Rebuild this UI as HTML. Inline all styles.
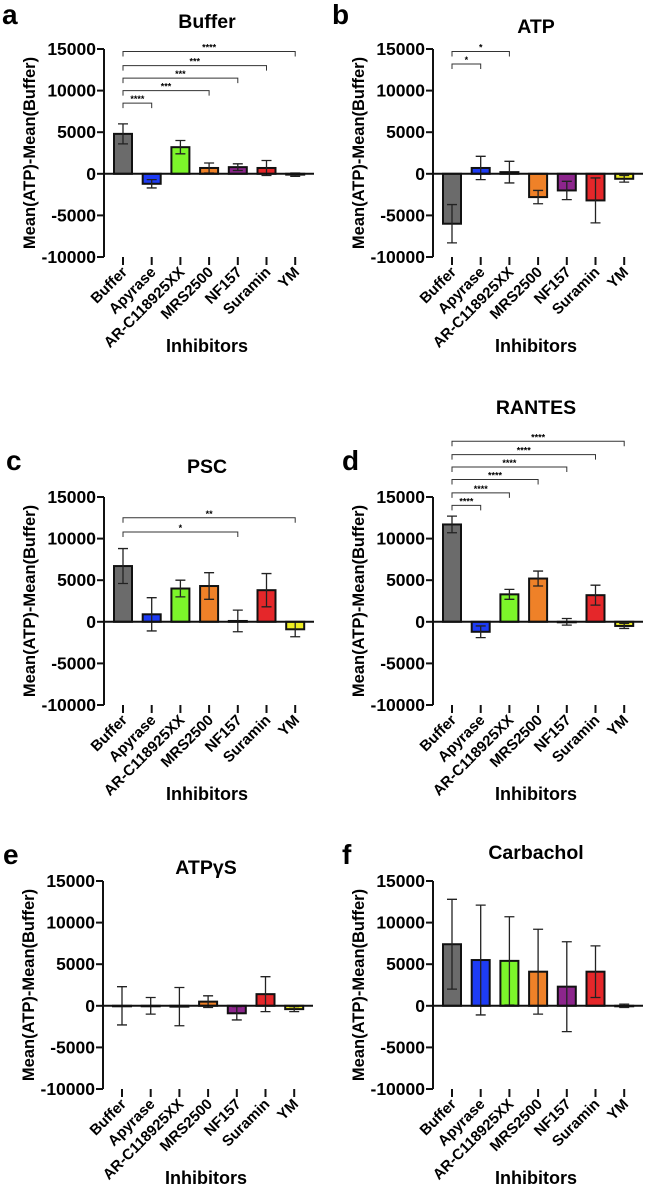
<!DOCTYPE html>
<html><head><meta charset="utf-8"><style>
html,body{margin:0;padding:0;background:#fff}
svg{display:block;font-family:"Liberation Sans",Arial,sans-serif;font-weight:bold}
</style></head><body>
<svg id="fig" width="646" height="1193" viewBox="0 0 646 1193" xmlns="http://www.w3.org/2000/svg"></svg>
<script>
const categories = ["Buffer","Apyrase","AR-C118925XX","MRS2500","NF157","Suramin","YM"];
const colors = ["#6b6b6b","#1e3cf5","#7cf52a","#ef8128","#8c258c","#e5272a","#eeee22"];
const yTicks = [15000,10000,5000,0,-5000,-10000];
const valsA = [4800,-1200,3200,700,800,700,-100];
const errA = [1200,500,800,600,400,900,200];
const valsB = [-6000,700,200,-2800,-2000,-3200,-600];
const errB = [2300,1400,1300,800,1100,2700,400];
const valsC = [6700,900,4000,4300,100,3800,-900];
const errC = [2100,2000,1000,1600,1300,2000,900];
const valsD = [11700,-1200,3300,5200,0,3200,-500];
const errD = [1000,700,600,900,400,1200,300];
const valsE = [0,0,-100,500,-900,1400,-400];
const errE = [2300,1000,2300,700,800,2100,300];
const valsF = [7400,5500,5400,4100,2300,4100,0];
const errF = [5400,6600,5300,5100,5400,3100,200];
const sigA = [[1,8500,"****"],[3,10000,"***"],[4,11500,"***"],[5,13000,"***"],[6,14700,"****"]];
const sigB = [[1,13200,"*"],[2,14700,"*"]];
const sigC = [[4,10800,"*"],[6,12500,"**"]];
const sigD = [[1,14000,"****"],[2,15500,"****"],[3,17100,"****"],[4,18600,"****"],[5,20100,"****"],[6,21700,"****"]];

const panels = [
 {id:"a",title:"Buffer",ax:104,top:49,vals:valsA,err:errA,sig:sigA,lx:2,ly:24,tOff:21},
 {id:"b",title:"ATP",ax:433,top:49,vals:valsB,err:errB,sig:sigB,lx:332,ly:24,tOff:16},
 {id:"c",title:"PSC",ax:104,top:497,vals:valsC,err:errC,sig:sigC,lx:6,ly:470,tOff:24},
 {id:"d",title:"RANTES",ax:433,top:497,vals:valsD,err:errD,sig:sigD,lx:342,ly:470,tOff:83},
 {id:"e",title:"ATPγS",ax:103,top:881,vals:valsE,err:errE,sig:[],lx:3,ly:864,tOff:7},
 {id:"f",title:"Carbachol",ax:433,top:881,vals:valsF,err:errF,sig:[],lx:342,ly:864,tOff:22}
];
const NS="http://www.w3.org/2000/svg";
const svg=document.getElementById("fig");
function mk(tag,attrs,parent,text){const e=document.createElementNS(NS,tag);for(const k in attrs)e.setAttribute(k,attrs[k]);if(text!==undefined)e.textContent=text;parent.appendChild(e);return e;}
panels.forEach(p=>{
  const g=mk("g",{},svg);
  
  
  const pxPer=208/25000;
  const y=v=>p.top+(15000-v)*pxPer;
  const step=28.7;
  const x=i=>p.ax+19+i*step;
  const bottom=y(-10000);
  const lt=mk("text",{x:p.lx,y:p.ly,"font-size":28},g,p.id);
  
  
  const tt=mk("text",{x:p.ax+103,y:p.top-p.tOff,"font-size":19.5,"text-anchor":"middle"},g,p.title);
  
  
  p.vals.forEach((v,i)=>{
    const y0=y(0),y1=y(v);
    const b=mk("rect",{x:x(i)-9,y:Math.min(y0,y1),width:18,height:Math.max(Math.abs(y1-y0),0.5),fill:colors[i],stroke:"#111","stroke-width":2},g);
    
    
    const e1=y(v+p.err[i]),e2=y(v-p.err[i]);
    const eb=mk("path",{d:`M${x(i)},${e1}V${e2}M${x(i)-5},${e1}H${x(i)+5}M${x(i)-5},${e2}H${x(i)+5}`,stroke:"#222","stroke-width":1.3,fill:"none"},g);
    
    
    const tk=mk("line",{x1:x(i),x2:x(i),y1:bottom,y2:bottom+8,stroke:"#111","stroke-width":2},g);
    
    
    const cl=mk("text",{x:0,y:0,"font-size":15,"text-anchor":"end",transform:`translate(${x(i)+5},${bottom+16}) rotate(-45)`},g,categories[i]);
    
    
  });
  const ya=mk("line",{x1:p.ax,x2:p.ax,y1:p.top,y2:bottom,stroke:"#111","stroke-width":2},g);
  
  
  const xa=mk("line",{x1:p.ax,x2:p.ax+210,y1:y(0),y2:y(0),stroke:"#111","stroke-width":2},g);
  
  
  yTicks.forEach(t=>{
    const tl=mk("line",{x1:p.ax-7,x2:p.ax,y1:y(t),y2:y(t),stroke:"#111","stroke-width":2},g);
    
    
    const tx=mk("text",{x:p.ax-8,y:y(t)+6,"font-size":17.5,"text-anchor":"end"},g,String(t));
    
    
  });
  const yt=mk("text",{x:0,y:0,"font-size":16.5,"text-anchor":"middle",transform:`translate(${p.ax-69},${y(2500)}) rotate(-90)`},g,"Mean(ATP)-Mean(Buffer)");
  
  
  const xt=mk("text",{x:p.ax+103,y:p.top+303,"font-size":18,"text-anchor":"middle"},g,"Inhibitors");
  
  
  p.sig.forEach(s=>{
    const yy=y(s[1]);
    const br=mk("path",{d:`M${x(0)},${yy+5}V${yy}H${x(s[0])}V${yy+5}`,stroke:"#333","stroke-width":1,fill:"none"},g);
    
    
    const st=mk("text",{x:(x(0)+x(s[0]))/2,y:yy-1,"font-size":9,"text-anchor":"middle"},g,s[2]);
    
    
  });
});
</script>
</body></html>
